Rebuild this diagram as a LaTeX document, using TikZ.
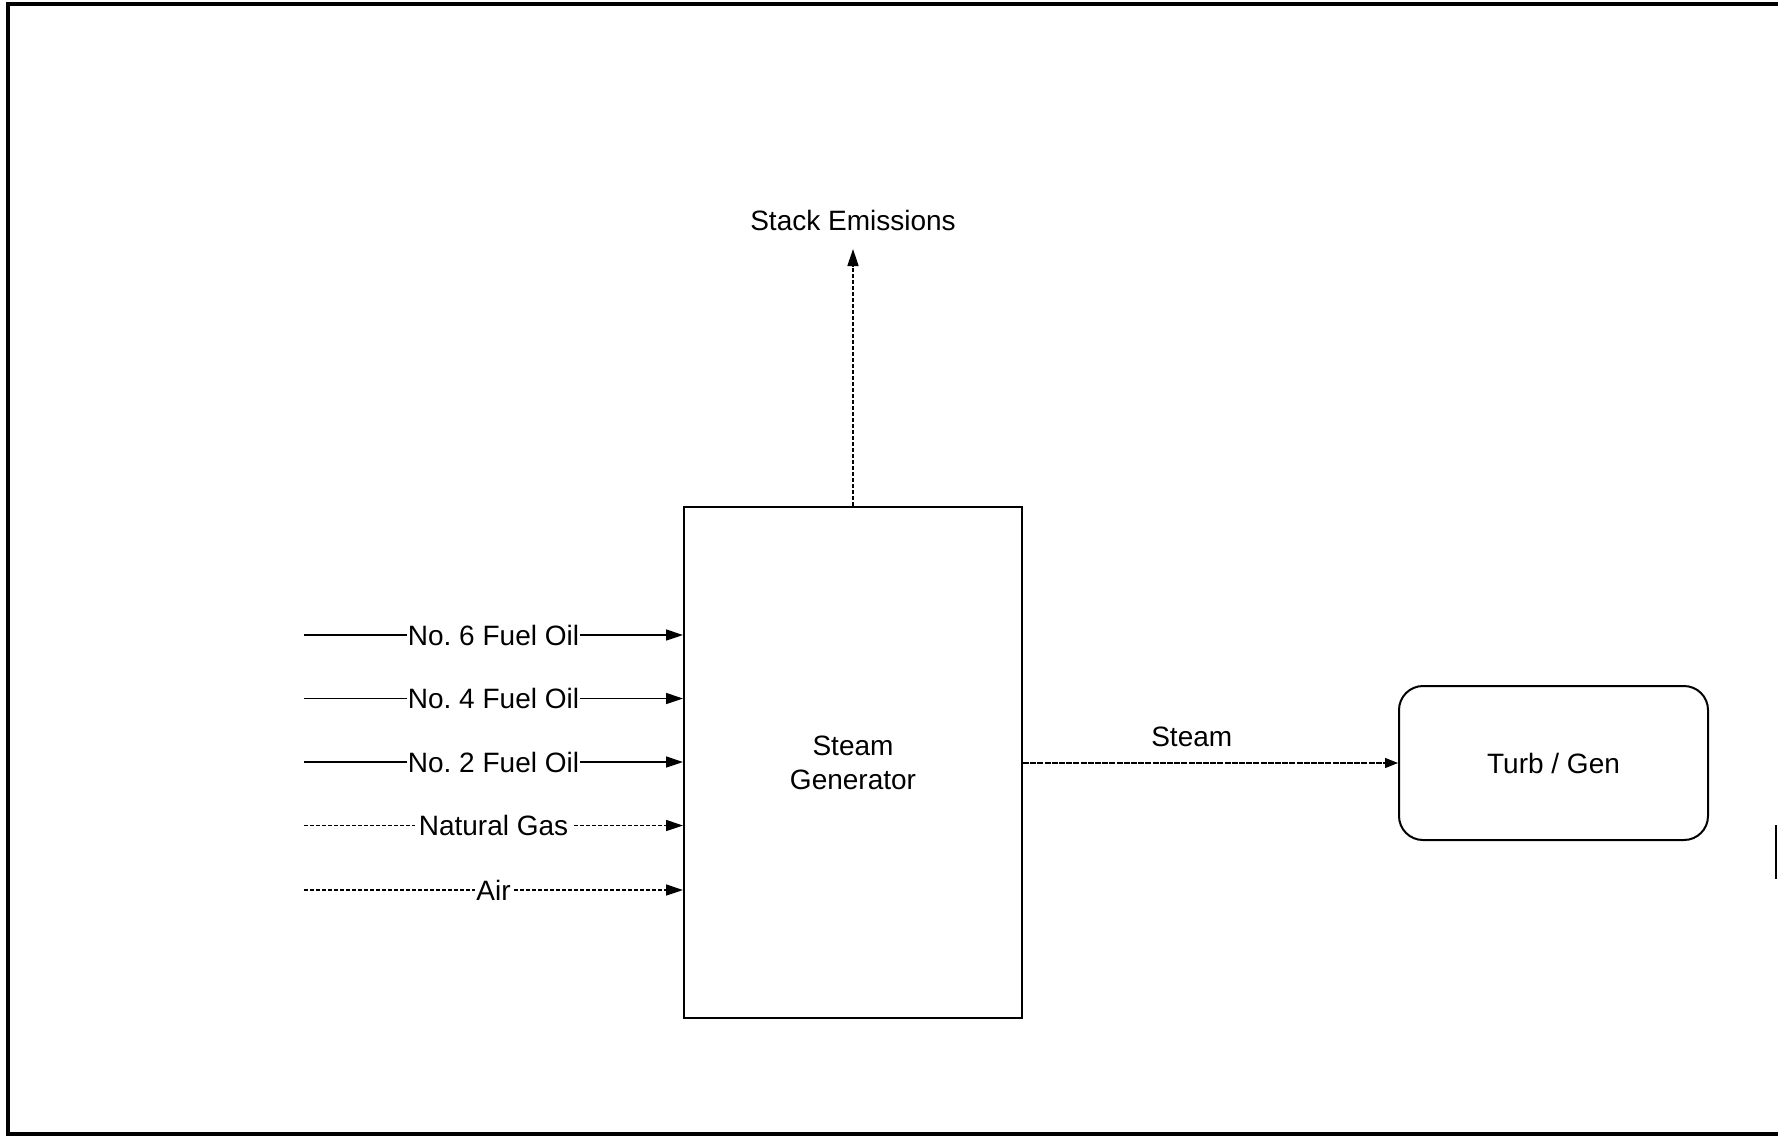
\documentclass[tikz,border=0pt]{standalone}
\usepackage{fontspec}
\setmainfont{Liberation Sans}
\usetikzlibrary{arrows.meta}
\frenchspacing
\begin{document}
\begin{tikzpicture}[x=0.5pt,y=-0.5pt,
  txt/.style={font=\fontsize{14}{17}\selectfont, inner sep=1pt},
  lbl/.style={txt, fill=white, inner xsep=0.5pt},
  flow/.style={line width=0.75pt, -{Triangle[length=8.5pt,width=5.5pt]}},
  dflow/.style={flow, dash pattern=on 2pt off 1pt},
  blk/.style={draw, line width=1pt, txt, align=center}]
\useasboundingbox (0,0) rectangle (1778,1137);
% frame
\draw[line width=1.75pt] (1778,4) -- (8,4) -- (8,1134) -- (1778,1134);
\draw[line width=1pt] (1776,825) -- (1776,879);
% blocks
\node[blk, minimum width=169pt, minimum height=255.5pt] (sg) at (853,762.5) {Steam\\Generator};
\node[blk, rounded corners=12pt, minimum width=154.5pt, minimum height=77pt] (tg) at (1553.5,763) {Turb / Gen};
% stack
\coordinate (stk) at (853,249);
\node[txt] (stktxt) at (853,220) {Stack Emissions};
\draw[dflow] (sg.north) -- (stk);
% inputs
\coordinate (i6) at (304,635);
\coordinate (i4) at (304,698.5);
\coordinate (i2) at (304,762);
\coordinate (ig) at (304,825.5);
\coordinate (ia) at (304,890);
\draw[flow] (i6) -- node[lbl] (l6) {No. 6 Fuel Oil} (sg.west |- i6);
\draw[flow] (i4) -- node[lbl] (l4) {No. 4 Fuel Oil} (sg.west |- i4);
\draw[flow] (i2) -- node[lbl] (l2) {No. 2 Fuel Oil} (sg.west |- i2);
\draw[dflow] (ig) -- node[lbl, inner xsep=2pt] (lg) {Natural Gas} (sg.west |- ig);
\draw[dflow] (ia) -- node[lbl] (la) {Air} (sg.west |- ia);
% steam
\draw[dflow, line width=0.6pt, dash pattern=on 3pt off 0.6pt, -{Triangle[length=6.5pt,width=5pt]}] (sg.east |- tg.west) -- node[txt, pos=0.45, above=7pt] (stm) {Steam} (tg.west);
\end{tikzpicture}
\end{document}
